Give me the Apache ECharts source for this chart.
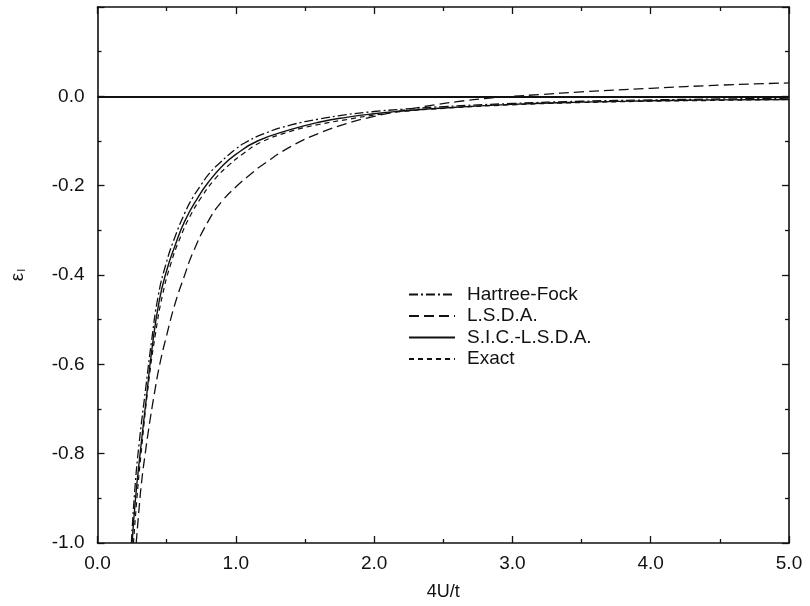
<!DOCTYPE html>
<html>
<head>
<meta charset="utf-8">
<style>
  html, body { margin: 0; padding: 0; background: #fff; }
  #chart { width: 810px; height: 606px; }
</style>
<script src="https://cdn.jsdelivr.net/npm/echarts@6/dist/echarts.min.js"></script>
</head>
<body>
<div id="chart"></div>
<script>
// Orbital energy of the impurity level versus 4U/t for four approximations
const hfX = [0.245, 0.27, 0.30, 0.35, 0.39, 0.44, 0.50, 0.56, 0.63, 0.69, 0.75, 0.80, 0.87, 1.00, 1.06, 1.20, 1.40, 1.60, 1.80, 2.00, 2.20, 2.50, 3.00, 3.50, 4.00, 4.50, 5.00];
const hfY = [-1.0, -0.88, -0.78, -0.65, -0.55, -0.445, -0.37, -0.315, -0.262, -0.226, -0.198, -0.176, -0.153, -0.118, -0.105, -0.084, -0.064, -0.051, -0.041, -0.034, -0.029, -0.023, -0.016, -0.011, -0.008, -0.006, -0.004];

const lsdaX = [0.28, 0.30, 0.32, 0.345, 0.37, 0.41, 0.45, 0.50, 0.56, 0.625, 0.69, 0.80, 0.90, 1.00, 1.10, 1.20, 1.40, 1.60, 1.80, 2.00, 2.20, 2.40, 2.60, 2.80, 3.00, 3.20, 3.50, 4.00, 4.50, 5.00];
const lsdaY = [-1.0, -0.925, -0.86, -0.80, -0.745, -0.668, -0.60, -0.535, -0.465, -0.405, -0.35, -0.28, -0.235, -0.203, -0.176, -0.152, -0.112, -0.083, -0.061, -0.045, -0.032, -0.021, -0.012, -0.005, 0.0, 0.004, 0.010, 0.018, 0.025, 0.030];

const sicX = [0.25, 0.275, 0.308, 0.356, 0.392, 0.445, 0.50, 0.56, 0.63, 0.727, 0.80, 0.906, 1.00, 1.157, 1.40, 1.60, 1.80, 2.00, 2.20, 2.50, 3.00, 3.50, 4.00, 4.50, 5.00];
const sicY = [-1.0, -0.90, -0.80, -0.668, -0.57, -0.46, -0.39, -0.335, -0.28, -0.226, -0.193, -0.155, -0.13, -0.10, -0.074, -0.058, -0.047, -0.039, -0.033, -0.026, -0.018, -0.013, -0.010, -0.008, -0.007];

const exactX = [0.26, 0.285, 0.315, 0.37, 0.42, 0.47, 0.53, 0.60, 0.67, 0.751, 0.85, 0.954, 1.06, 1.18, 1.40, 1.60, 1.80, 2.00, 2.20, 2.50, 3.00, 3.50, 4.00, 4.50, 5.00];
const exactY = [-1.0, -0.90, -0.80, -0.64, -0.53, -0.445, -0.375, -0.315, -0.268, -0.226, -0.185, -0.153, -0.127, -0.103, -0.078, -0.063, -0.052, -0.042, -0.034, -0.027, -0.019, -0.014, -0.011, -0.009, -0.007];

const seriesNames = ['Hartree-Fock', 'L.S.D.A.', 'S.I.C.-L.S.D.A.', 'Exact'];
const xTicks = [0, 1, 2, 3, 4, 5];
const yTicks = [-1.0, -0.8, -0.6, -0.4, -0.2, 0.0];

const pairs = (xs, ys) => xs.map((x, i) => [x, ys[i]]);
const FONT = 'Liberation Sans, Arial, Helvetica, sans-serif';
const INK = '#111';

const tickStyle = { lineStyle: { color: INK, width: 1.3 } };

function frameAxis(position, extra) {
  return Object.assign({
    type: 'value',
    position: position,
    axisLine: { show: true, onZero: false, lineStyle: { color: INK, width: 1.6 } },
    axisTick: Object.assign({ show: true, inside: true, length: 7 }, tickStyle),
    minorTick: Object.assign({ show: true, splitNumber: 2, length: 4 }, tickStyle),
    splitLine: { show: false }
  }, extra);
}

const lineSeries = (name, data, type, width) => ({
  name: name,
  type: 'line',
  data: data,
  symbol: 'none',
  showSymbol: false,
  smooth: 0.5,
  clip: true,
  lineStyle: { color: INK, width: width, type: type },
  itemStyle: { color: INK }
});

const chart = echarts.init(document.getElementById('chart'), null, { renderer: 'canvas' });

chart.setOption({
  backgroundColor: '#ffffff',
  animation: false,
  grid: { left: 92, right: 21, top: 7, bottom: 56 },
  legend: {
    data: seriesNames,
    orient: 'vertical',
    left: 408,
    top: 285,
    padding: 0,
    itemWidth: 46,
    itemHeight: 10,
    itemGap: 2.5,
    itemStyle: { color: 'rgba(0,0,0,0)', borderWidth: 0, opacity: 0 },
    textStyle: { fontFamily: FONT, fontSize: 19, lineHeight: 18, color: INK, padding: [0, 0, 0, 7] }
  },
  xAxis: [
    frameAxis('bottom', {
      min: 0, max: 5, interval: 1,
      name: '4U/t',
      nameLocation: 'middle',
      nameGap: 40,
      nameTextStyle: { fontFamily: FONT, fontSize: 18, color: INK },
      axisLabel: {
        show: true, margin: 11, fontFamily: FONT, fontSize: 19, color: INK,
        formatter: v => xTicks.includes(v) ? v.toFixed(1) : ''
      }
    }),
    frameAxis('top', {
      min: 0, max: 5, interval: 1,
      axisLabel: { show: false }
    })
  ],
  yAxis: [
    frameAxis('left', {
      min: -1.0, max: 0.2, interval: 0.2,
      name: '{e|ε}{s|I}',
      nameLocation: 'middle',
      nameRotate: 90,
      nameGap: 70,
      nameTextStyle: {
        color: INK,
        rich: {
          e: { fontFamily: FONT, fontSize: 19, color: INK },
          s: { fontFamily: FONT, fontSize: 11, color: INK, verticalAlign: 'bottom', padding: [9, 0, 0, 1] }
        }
      },
      axisLabel: {
        show: true, margin: 13, fontFamily: FONT, fontSize: 19, color: INK,
        formatter: v => {
          const r = Math.round(v * 10) / 10;
          return yTicks.some(t => Math.abs(t - r) < 1e-9) ? r.toFixed(1) : '';
        }
      }
    }),
    frameAxis('right', {
      min: -1.0, max: 0.2, interval: 0.2,
      axisLabel: { show: false }
    })
  ],
  series: [
    lineSeries(seriesNames[0], pairs(hfX, hfY), [9, 3, 2, 3], 1.3),
    lineSeries(seriesNames[1], pairs(lsdaX, lsdaY), [10, 5], 1.3),
    lineSeries(seriesNames[2], pairs(sicX, sicY), 'solid', 1.4),
    lineSeries(seriesNames[3], pairs(exactX, exactY), [5, 4], 1.2),
    {
      name: 'zero',
      type: 'line',
      data: [],
      silent: true,
      markLine: {
        silent: true,
        symbol: 'none',
        label: { show: false },
        lineStyle: { color: INK, width: 1.8, type: 'solid' },
        data: [{ yAxis: 0 }]
      }
    }
  ]
});
</script>
</body>
</html>
